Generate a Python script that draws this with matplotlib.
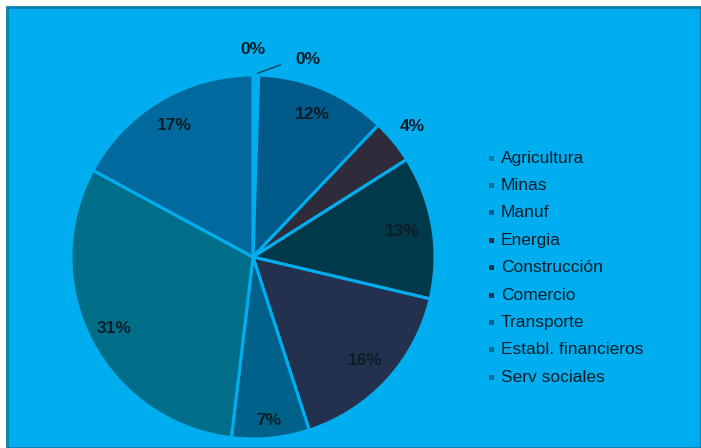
import matplotlib
matplotlib.use("Agg")
import matplotlib.pyplot as plt
import numpy as np
from matplotlib.patches import Rectangle

plt.rcParams["font.family"] = ["Liberation Sans", "DejaVu Sans"]

categories = ["Agricultura", "Minas", "Manuf", "Energia", "Construcción",
              "Comercio", "Transporte", "Establ. financieros", "Serv sociales"]
values = [0.3, 0.2, 11.6, 3.9, 12.7, 16.3, 6.9, 31.0, 17.1]
labels = ["0%", "0%", "12%", "4%", "13%", "16%", "7%", "31%", "17%"]
colors = ["#0078A6", "#006F91", "#005A8A", "#2E2B3B", "#003A4A",
          "#23304E", "#00618A", "#006E88", "#00699E"]

BG = "#00AEEF"
TXT = "#0E1C26"
LFS = 12.5

W, H = 701, 448
fig = plt.figure(figsize=(W / 100, H / 100), dpi=100, facecolor="white")

# background panel with thin dark border
fig.patches.append(Rectangle((7 / W, 0), 1 - 7 / W, 1 - 7 / H, transform=fig.transFigure,
                             facecolor=BG, edgecolor="#0A7FA8", linewidth=2.0, zorder=-5))

cx, cy, r = 253, 448 - 257, 182
ax = fig.add_axes([(cx - r) / W, (cy - r) / H, 2 * r / W, 2 * r / H])
ax.set_zorder(2)
ax.set_facecolor("none")
ax.axis("off")

wedges, _ = ax.pie(values, colors=colors, startangle=90, counterclock=False, radius=1,
                   wedgeprops=dict(edgecolor=BG, linewidth=2.2))
ax.set_xlim(-1, 1)
ax.set_ylim(-1, 1)

dist = {2: 0.85, 4: 0.83, 5: 0.84, 6: 0.90, 7: 0.86, 8: 0.84, 3: 1.13}
for i, w in enumerate(wedges):
    mid = np.deg2rad((w.theta1 + w.theta2) / 2)
    if i == 0:
        ax.text(0.0, 1.14, labels[i], ha="center", va="center", fontsize=LFS,
                fontweight="bold", color=TXT, clip_on=False)
    elif i == 1:
        px, py = np.cos(mid), np.sin(mid)
        ax.annotate(labels[i], xy=(px, py + 0.01), xytext=(0.30, 1.085),
                    ha="center", va="center", fontsize=LFS, fontweight="bold", color=TXT,
                    annotation_clip=False,
                    arrowprops=dict(arrowstyle="-", color="#1B3A4A", lw=0.9,
                                    shrinkA=9, shrinkB=0,
                                    connectionstyle="angle,angleA=0,angleB=20,rad=0"))
    else:
        d = dist[i]
        ax.text(d * np.cos(mid), d * np.sin(mid), labels[i], ha="center", va="center",
                fontsize=LFS, fontweight="bold", color=TXT, clip_on=False)

# legend
y0 = 158
for i, (c, lab) in enumerate(zip(colors, categories)):
    y = y0 + i * 27.4
    fig.patches.append(Rectangle((489 / W, (H - y - 2.5) / H), 5 / W, 5 / H,
                                 transform=fig.transFigure, facecolor=c,
                                 edgecolor="none", zorder=3))
    fig.text(501 / W, (H - y) / H, lab, ha="left", va="center", fontsize=12.5,
             color=TXT)

fig.savefig("out.png", dpi=100, facecolor="white")
